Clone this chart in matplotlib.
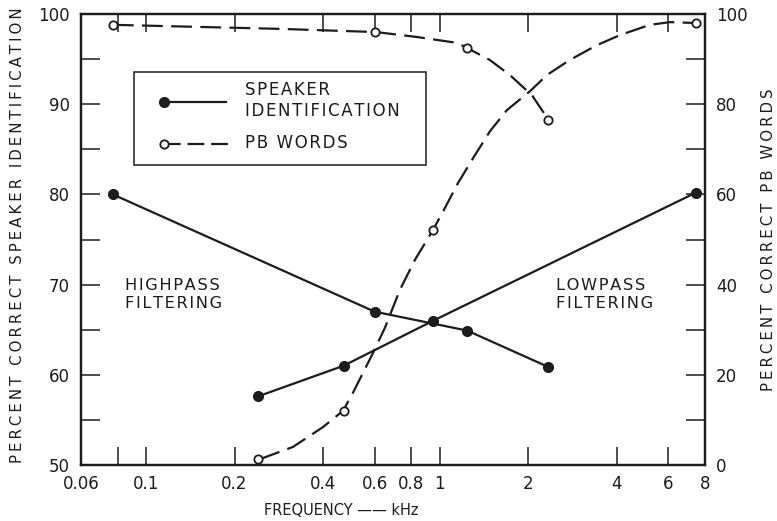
import matplotlib
matplotlib.use("Agg")
import matplotlib.pyplot as plt
from matplotlib.patches import Rectangle
from matplotlib.ticker import FixedLocator, NullFormatter, NullLocator

# ---------------- data ----------------
# Highpass filtering (cutoff frequency, kHz)
freq_hp = [0.077, 0.60, 1.24, 2.33]
speaker_hp = [80.0, 67.0, 64.9, 60.9]      # percent correct speaker identification
pb_hp = [97.6, 96.0, 92.5, 76.5]           # percent correct PB words

# Lowpass filtering (cutoff frequency, kHz)
freq_lp = [0.24, 0.47, 0.95, 7.45]
speaker_lp = [57.6, 61.0, 66.0, 80.2]
pb_lp = [1.3, 12.0, 52.1, 98.0]

# hand-drawn smooth PB curves
pb_hp_curve_f = [0.077, 0.286, 0.606, 0.836, 1.144, 1.237, 1.48, 1.73, 1.92, 2.06, 2.19, 2.35]
pb_hp_curve_v = [97.6, 96.7, 96.0, 94.9, 93.6, 92.5, 89.8, 86.5, 83.8, 82.0, 79.4, 76.5]
pb_lp_curve_f = [0.244, 0.316, 0.400, 0.468, 0.506, 0.592, 0.651, 0.731, 0.823, 0.948,
                 1.041, 1.153, 1.297, 1.482, 1.693, 2.03, 2.32, 2.77, 3.43, 4.10, 5.19,
                 6.08, 7.45]
pb_lp_curve_v = [1.3, 4.0, 8.4, 12.0, 16.0, 24.8, 30.5, 38.8, 45.5, 52.1,
                 57.0, 62.5, 68.0, 74.0, 78.7, 82.9, 86.5, 89.8, 93.1, 95.3, 97.6,
                 98.2, 98.0]

x_tick_positions = [0.08, 0.1, 0.2, 0.4, 0.6, 0.8, 1, 2, 4, 6, 8]
x_tick_values = [0.06, 0.1, 0.2, 0.4, 0.6, 0.8, 1, 2, 4, 6, 8]
x_tick_labels = ["0.06", "0.1", "0.2", "0.4", "0.6", "0.8", "1", "2", "4", "6", "8"]
left_ticks = [50, 55, 60, 65, 70, 75, 80, 85, 90, 95, 100]
left_labels = [50, 60, 70, 80, 90, 100]
right_ticks = [0, 10, 20, 30, 40, 50, 60, 70, 80, 90, 100]
right_labels = [0, 20, 40, 60, 80, 100]

INK = "#1c1c1c"
plt.rcParams["font.family"] = ["DejaVu Sans"]
plt.rcParams["lines.scale_dashes"] = False


def spaced(s, sep="\u200a"):
    return sep.join(s)


fig = plt.figure(figsize=(7.77, 5.21), dpi=100)
ax = fig.add_axes([81 / 777, 56 / 521, 624 / 777, 451 / 521])
ax2 = ax.twinx()

ax.set_xscale("log")
ax.set_xlim(0.06, 8)
ax.set_ylim(50, 100)
ax2.set_ylim(0, 100)

lw = 1.6
dash = (15, 6)

# speaker identification (left axis)
ax.plot(freq_hp, speaker_hp, color=INK, lw=lw, marker="o", ms=7, mfc=INK, mec=INK, zorder=3)
ax.plot(freq_lp, speaker_lp, color=INK, lw=lw, marker="o", ms=7, mfc=INK, mec=INK, zorder=3)

# PB words (right axis)
ax2.plot(pb_hp_curve_f, pb_hp_curve_v, color=INK, lw=lw, dashes=dash, zorder=2)
ax2.plot(pb_lp_curve_f, pb_lp_curve_v, color=INK, lw=lw, dashes=dash, zorder=2)
ax2.plot(freq_hp, pb_hp, ls="none", marker="o", ms=6, mfc="white", mec=INK, mew=1.3, zorder=4)
ax2.plot(freq_lp, pb_lp, ls="none", marker="o", ms=6, mfc="white", mec=INK, mew=1.3, zorder=4)

# ticks
ax.xaxis.set_major_locator(FixedLocator(x_tick_positions))
ax.xaxis.set_minor_locator(NullLocator())
ax.xaxis.set_major_formatter(NullFormatter())
ax.xaxis.set_minor_formatter(NullFormatter())
ax.yaxis.set_major_locator(FixedLocator(left_ticks))
ax.set_yticklabels([str(t) if t in left_labels else "" for t in left_ticks])
ax2.yaxis.set_major_locator(FixedLocator(right_ticks))
ax2.set_yticklabels([str(t) if t in right_labels else "" for t in right_ticks])

ax.tick_params(axis="x", which="both", direction="in", length=13, width=1.1,
               top=True, bottom=True, color=INK)
ax.tick_params(axis="y", direction="in", length=14, width=1.1, labelsize=12,
               pad=8, colors=INK, right=False)
ax2.tick_params(axis="y", direction="in", length=14, width=1.1, labelsize=12,
                pad=8, colors=INK)

for a in (ax, ax2):
    for s in a.spines.values():
        s.set_linewidth(1.6)
        s.set_color(INK)

# x tick labels
for v, lab in zip(x_tick_values, x_tick_labels):
    ax.text(v, -0.022, lab, transform=ax.get_xaxis_transform(), ha="center", va="top",
            fontsize=12, color=INK)

# axis labels
ax.set_ylabel(spaced("PERCENT CORRECT SPEAKER IDENTIFICATION", "\u2009"), fontsize=10.8, color=INK)
ax.yaxis.set_label_coords(-0.09, 0.51)
ax2.set_ylabel(spaced("PERCENT CORRECT PB WORDS", "\u2009"), fontsize=10.8, color=INK, rotation=90)
ax2.yaxis.set_label_coords(1.09, 0.499)
ax.text(0.4175, -0.101, "FREQUENCY \u2014\u2014 kHz", transform=ax.transAxes,
        ha="center", va="center", fontsize=10.5, color=INK)

# annotations
ax.text(0.0705, 0.415, spaced("HIGHPASS") + "\n" + spaced("FILTERING"), transform=ax.transAxes,
        ha="left", va="top", fontsize=11.7, color=INK, linespacing=1.3)
ax.text(0.761, 0.415, spaced("LOWPASS") + "\n" + spaced("FILTERING"), transform=ax.transAxes,
        ha="left", va="top", fontsize=11.7, color=INK, linespacing=1.3)

# legend (drawn manually in axes coordinates)
ax.add_patch(Rectangle((0.085, 0.665), 0.468, 0.206, transform=ax.transAxes,
                       fill=False, ec=INK, lw=1.1, zorder=5))
ax.plot([0.133, 0.233], [0.805, 0.805], transform=ax.transAxes, color=INK, lw=lw, zorder=6)
ax.plot([0.133], [0.805], transform=ax.transAxes, marker="o", ms=7, color=INK, zorder=7)
ax.plot([0.133, 0.236], [0.712, 0.712], transform=ax.transAxes, color=INK, lw=lw,
        dashes=(12, 5), zorder=6)
ax.plot([0.133], [0.712], transform=ax.transAxes, marker="o", ms=6, mfc="white",
        mec=INK, mew=1.3, zorder=7)
ax.text(0.263, 0.808, spaced("SPEAKER") + "\n" + spaced("IDENTIFICATION"), transform=ax.transAxes,
        ha="left", va="center", fontsize=12, color=INK, linespacing=1.25, zorder=7)
ax.text(0.263, 0.714, spaced("PB WORDS"), transform=ax.transAxes,
        ha="left", va="center", fontsize=12, color=INK, zorder=7)

fig.savefig("out.png", dpi=100)
